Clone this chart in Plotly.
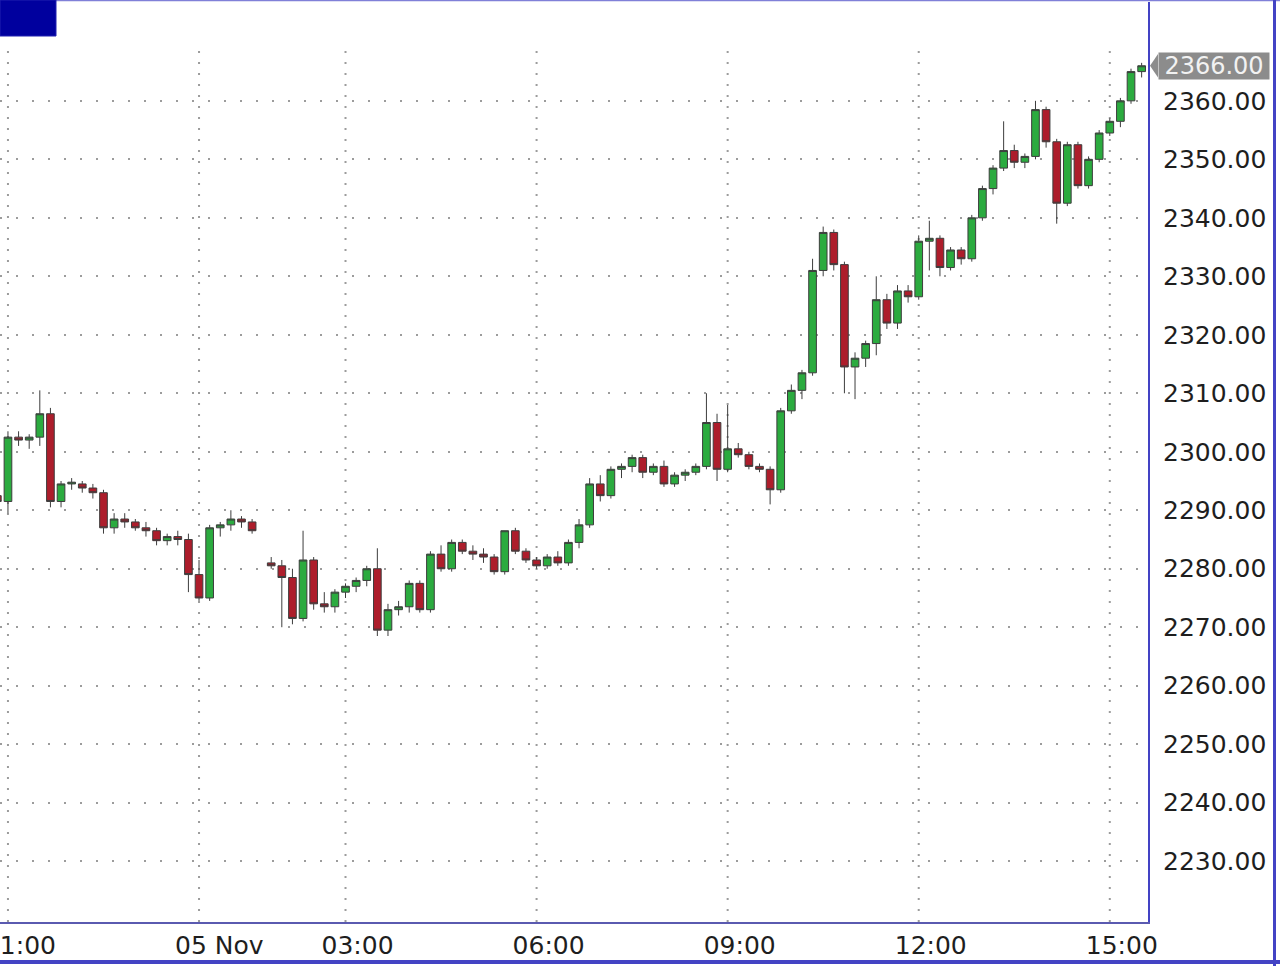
import pandas as pd
import plotly.graph_objects as go

# ---- Session 1: evening of 04 Nov (10-minute bars, 20:50 .. 00:50) ----
s1_open = [2292.5, 2291.5, 2302.5, 2302.0, 2302.5, 2306.5, 2291.5, 2294.5, 2294.5, 2293.8,
           2293.0, 2287.0, 2288.5, 2288.0, 2287.0, 2286.5, 2284.8, 2285.5, 2285.0, 2279.0,
           2275.0, 2287.0, 2287.5, 2288.5, 2288.0]
s1_high = [2294.0, 2303.5, 2303.5, 2303.0, 2310.5, 2307.5, 2295.0, 2295.5, 2295.0, 2294.5,
           2293.5, 2289.5, 2289.5, 2288.5, 2288.0, 2287.0, 2286.0, 2286.5, 2286.0, 2281.5,
           2287.5, 2288.0, 2290.0, 2289.0, 2288.5]
s1_low = [2289.0, 2289.5, 2301.0, 2300.5, 2301.0, 2290.5, 2290.5, 2293.5, 2293.0, 2292.0,
          2286.0, 2286.0, 2287.0, 2286.5, 2285.5, 2284.0, 2284.0, 2284.0, 2276.0, 2274.5,
          2274.5, 2285.5, 2286.5, 2287.0, 2286.0]
s1_close = [2291.5, 2302.5, 2302.0, 2302.5, 2306.5, 2291.5, 2294.5, 2294.8, 2293.8, 2293.0,
            2287.0, 2288.5, 2288.0, 2287.0, 2286.5, 2284.8, 2285.5, 2285.0, 2279.0, 2275.0,
            2287.0, 2287.5, 2288.5, 2288.0, 2286.5]

# ---- Session 2: 05 Nov (10-minute bars, 01:50 .. 15:30) ----
s2_open = [2281.0, 2280.5, 2278.5, 2271.5, 2281.5, 2274.0, 2273.5, 2276.0, 2277.0, 2278.0,
           2280.0, 2269.5, 2273.0, 2273.5, 2277.5, 2273.0, 2282.5, 2280.0, 2284.5, 2283.0,
           2282.5, 2282.0, 2279.5, 2286.5, 2283.0, 2281.5, 2280.5, 2282.0, 2281.0, 2284.5,
           2287.5, 2294.5, 2292.5, 2297.0, 2297.5, 2299.0, 2296.5, 2297.5, 2294.5, 2296.0,
           2296.5, 2297.5, 2305.0, 2297.0, 2300.5, 2299.5, 2297.5, 2297.0, 2293.5, 2307.0,
           2310.5, 2313.5, 2331.0, 2337.5, 2332.0, 2314.5, 2316.0, 2318.5, 2326.0, 2322.0,
           2327.5, 2326.5, 2336.0, 2336.5, 2331.5, 2334.5, 2333.0, 2340.0, 2345.0, 2348.5,
           2351.5, 2349.5, 2350.5, 2358.5, 2353.0, 2342.5, 2352.5, 2345.5, 2350.0, 2354.5,
           2356.5, 2360.0, 2365.0]
s2_high = [2282.0, 2281.5, 2280.0, 2286.5, 2282.0, 2276.0, 2276.5, 2277.5, 2278.5, 2280.5,
           2283.5, 2274.0, 2274.5, 2278.0, 2278.0, 2283.0, 2284.0, 2285.0, 2285.0, 2284.0,
           2283.5, 2282.5, 2286.5, 2287.0, 2283.5, 2282.0, 2282.5, 2283.0, 2285.0, 2288.5,
           2295.5, 2296.0, 2297.5, 2298.0, 2299.5, 2299.5, 2298.0, 2298.5, 2296.5, 2297.0,
           2298.0, 2310.0, 2306.5, 2308.0, 2301.5, 2300.0, 2298.0, 2297.5, 2307.5, 2311.5,
           2314.0, 2333.0, 2338.5, 2338.0, 2332.5, 2317.0, 2319.0, 2330.0, 2327.0, 2328.5,
           2328.5, 2337.0, 2339.5, 2337.0, 2335.0, 2335.0, 2340.5, 2345.5, 2349.0, 2356.5,
           2352.5, 2351.0, 2360.0, 2359.0, 2353.5, 2353.0, 2353.0, 2350.5, 2355.0, 2357.0,
           2360.5, 2365.5, 2366.5]
s2_low = [2280.0, 2270.0, 2270.5, 2271.0, 2273.0, 2272.5, 2272.5, 2275.0, 2276.0, 2277.0,
          2268.5, 2268.5, 2272.0, 2272.5, 2272.5, 2272.5, 2279.5, 2279.5, 2282.5, 2281.5,
          2281.0, 2279.0, 2279.0, 2282.5, 2281.0, 2280.0, 2280.0, 2280.5, 2280.5, 2283.5,
          2287.0, 2291.5, 2292.0, 2295.5, 2296.5, 2295.5, 2296.0, 2294.0, 2294.0, 2295.0,
          2296.0, 2297.0, 2295.0, 2296.5, 2299.0, 2297.0, 2296.5, 2291.0, 2293.0, 2306.5,
          2309.0, 2313.0, 2330.0, 2331.0, 2310.0, 2309.0, 2314.5, 2316.5, 2321.0, 2321.0,
          2325.5, 2326.0, 2331.0, 2330.0, 2331.0, 2332.0, 2332.5, 2339.5, 2344.0, 2348.0,
          2348.5, 2348.5, 2350.0, 2352.0, 2339.0, 2342.0, 2345.0, 2345.0, 2349.5, 2354.0,
          2355.5, 2359.5, 2364.0]
s2_close = [2280.5, 2278.5, 2271.5, 2281.5, 2274.0, 2273.5, 2276.0, 2277.0, 2278.0, 2280.0,
            2269.5, 2273.0, 2273.5, 2277.5, 2273.0, 2282.5, 2280.0, 2284.5, 2283.0, 2282.5,
            2282.0, 2279.5, 2286.5, 2283.0, 2281.5, 2280.5, 2282.0, 2281.0, 2284.5, 2287.5,
            2294.5, 2292.5, 2297.0, 2297.5, 2299.0, 2296.5, 2297.5, 2294.5, 2296.0, 2296.5,
            2297.5, 2305.0, 2297.0, 2300.5, 2299.5, 2297.5, 2297.0, 2293.5, 2307.0, 2310.5,
            2313.5, 2331.0, 2337.5, 2332.0, 2314.5, 2316.0, 2318.5, 2326.0, 2322.0, 2327.5,
            2326.5, 2336.0, 2336.5, 2331.5, 2334.5, 2333.0, 2340.0, 2345.0, 2348.5, 2351.5,
            2349.5, 2350.5, 2358.5, 2353.0, 2342.5, 2352.5, 2345.5, 2350.0, 2354.5, 2356.5,
            2360.0, 2365.0, 2366.0]

s1_start, s2_start, bar_freq = "2024-11-04 20:50", "2024-11-05 01:50", "10min"
session_break = ["2024-11-05 01:00", "2024-11-05 01:42"]

tick_times = ["2024-11-04 21:00", "2024-11-05 00:00", "2024-11-05 03:00", "2024-11-05 06:00",
              "2024-11-05 09:00", "2024-11-05 12:00", "2024-11-05 15:00"]
tick_labels = ["21:00", "05 Nov", "03:00", "06:00", "09:00", "12:00", "15:00"]
price_ticks = [2230, 2240, 2250, 2260, 2270, 2280, 2290, 2300, 2310, 2320, 2330, 2340, 2350, 2360]
price_labels = [f"{v:.2f}" for v in price_ticks]

x_range = ["2024-11-04 20:52:30", "2024-11-05 15:36"]
y_range = [2219.6, 2376.9]
grid_top = 2370

times = list(pd.date_range(s1_start, periods=len(s1_close), freq=bar_freq)) + \
        list(pd.date_range(s2_start, periods=len(s2_close), freq=bar_freq))
opens = s1_open + s2_open
highs = s1_high + s2_high
lows = s1_low + s2_low
closes = s1_close + s2_close

GREEN = "#2bab3f"
RED = "#ad1d2b"
EDGE = "#3d3d3d"
FRAME = "#4343c4"
GRID = "#9c9c9c"
FONT = "DejaVu Sans"
TXT = "#1e1e1e"

fig = go.Figure(go.Candlestick(
    x=times, open=opens, high=highs, low=lows, close=closes,
    increasing=dict(fillcolor=GREEN, line=dict(color=EDGE, width=1)),
    decreasing=dict(fillcolor=RED, line=dict(color=EDGE, width=1)),
    whiskerwidth=0, showlegend=False, hoverinfo="skip",
))

W, H = 1280, 966
ml, mr, mt, mb = 0, 132, 2, 44
pw, ph = W - ml - mr, H - mt - mb


def px_x(p):
    return (p - ml) / pw


def px_y(p):
    return (H - mb - p) / ph


shapes = []
# vertical dotted grid lines (start at the 2370 level)
for t in tick_times:
    shapes.append(dict(type="line", xref="x", yref="y", x0=t, x1=t, y0=y_range[0], y1=grid_top,
                       line=dict(color=GRID, width=2, dash="2px,9px"), layer="below"))
# frame lines
shapes += [
    dict(type="line", xref="paper", yref="paper", x0=px_x(0), x1=px_x(1280), y0=px_y(0.5), y1=px_y(0.5),
         line=dict(color="#8080d8", width=1.5)),
    dict(type="line", xref="paper", yref="paper", x0=px_x(0), x1=px_x(1280), y0=px_y(962), y1=px_y(962),
         line=dict(color=FRAME, width=4)),
    dict(type="line", xref="paper", yref="paper", x0=px_x(1274.5), x1=px_x(1274.5), y0=px_y(0), y1=px_y(966),
         line=dict(color=FRAME, width=3)),
    dict(type="rect", xref="paper", yref="paper", x0=px_x(0), x1=px_x(56), y0=px_y(36), y1=px_y(0),
         fillcolor="#00009e", line=dict(color="#2020b0", width=1)),
]
# last price marker (arrow tip)
last = closes[-1]
shapes.append(dict(type="path", xref="paper", yref="y",
                   path=f"M {px_x(1150)},{last} L {px_x(1158)},{last + 2.0} L {px_x(1158)},{last - 2.0} Z",
                   fillcolor="#8c8c8c", line=dict(width=0)))

fig.update_layout(
    width=W, height=H,
    margin=dict(l=ml, r=mr, t=mt, b=mb, autoexpand=False),
    paper_bgcolor="white", plot_bgcolor="white",
    font=dict(family=FONT, size=25, color=TXT),
    boxgap=0.15, boxgroupgap=0.15,
    shapes=shapes,
    annotations=[dict(
        xref="paper", yref="y", x=px_x(1158), y=last, xanchor="left", yanchor="middle",
        text=f"{last:.2f}", showarrow=False, bgcolor="#8c8c8c", width=110, height=26,
        font=dict(family=FONT, size=24, color="#f2f2f2"), borderpad=0,
    )],
    xaxis=dict(
        type="date", range=x_range, rangeslider=dict(visible=False), automargin=False,
        rangebreaks=[dict(bounds=session_break)],
        tickmode="array", tickvals=tick_times, ticktext=tick_labels,
        ticks="", showgrid=False, zeroline=False,
        showline=True, linecolor="#5a5ab0", linewidth=2,
        ticklabelposition="outside right", ticklabelshift=-25, ticklabelstandoff=0,
        ticklabeloverflow="allow",
        tickfont=dict(family=FONT, size=25, color=TXT),
    ),
    yaxis=dict(
        side="right", range=y_range, tickmode="array", tickvals=price_ticks, ticktext=price_labels,
        ticks="", showgrid=True, gridcolor=GRID, griddash="2px,14px", gridwidth=2, automargin=False,
        zeroline=False, showline=True, linecolor=FRAME, linewidth=2,
        ticklabelstandoff=8,
        tickfont=dict(family=FONT, size=25, color=TXT),
    ),
)

fig.write_html("out.html", config={"displayModeBar": False},
               post_script="document.body.style.margin='0';document.body.style.overflow='hidden';")
